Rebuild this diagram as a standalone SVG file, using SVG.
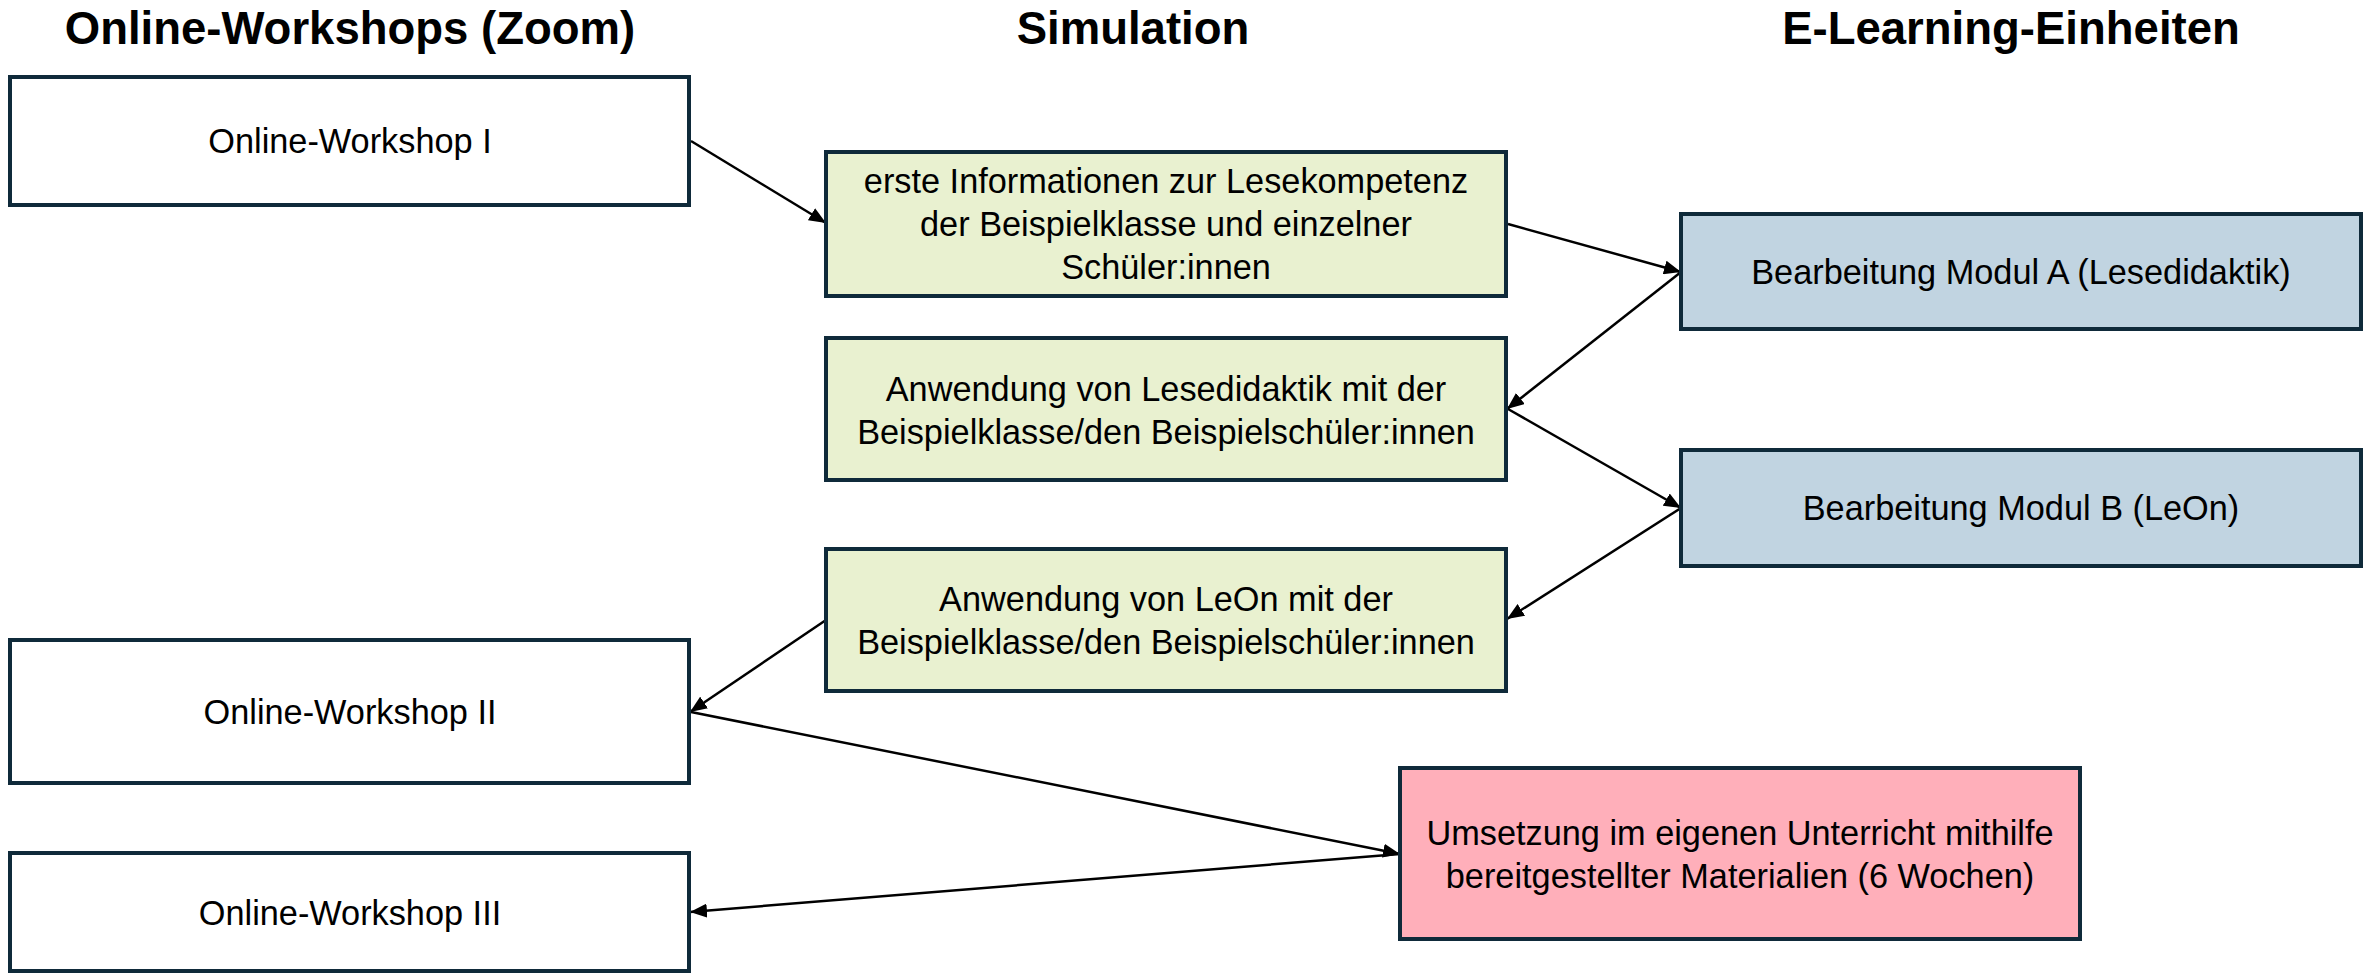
<svg xmlns="http://www.w3.org/2000/svg" width="2369" height="973" viewBox="0 0 2369 973">
<style>
  .title { font-family: "Liberation Sans", Arial, sans-serif; font-weight: bold; font-size: 45.5px; fill: #000; text-anchor: middle; }
  .box { stroke: #0f2a3a; stroke-width: 4; }
  .ow { fill: #ffffff; }
  .sim { fill: #e9f1d0; }
  .el { fill: #c1d4e1; }
  .impl { fill: #ffafba; }
  .lbl { font-family: "Liberation Sans", Arial, sans-serif; font-size: 34.3px; fill: #000; text-anchor: middle; }
  .conn { stroke: #000; stroke-width: 2.5; fill: none; marker-end: url(#arrow); }
</style>
<defs>
  <marker id="arrow" markerUnits="userSpaceOnUse" markerWidth="18" markerHeight="14" refX="17" refY="7" orient="auto">
    <path d="M0,0 L17,7 L0,14 z" fill="#000"/>
  </marker>
</defs>
<rect width="2369" height="973" fill="#ffffff"/>

<g id="titles">
  <text class="title" x="350" y="44">Online-Workshops (Zoom)</text>
  <text class="title" x="1133" y="44">Simulation</text>
  <text class="title" x="2011" y="44">E-Learning-Einheiten</text>
</g>

<g id="connectors">
  <line class="conn" x1="691" y1="141" x2="826" y2="223"/>
  <line class="conn" x1="1508" y1="224" x2="1681" y2="272"/>
  <line class="conn" x1="1681" y1="272" x2="1507" y2="409"/>
  <line class="conn" x1="1508" y1="409" x2="1681" y2="508"/>
  <line class="conn" x1="1681" y1="508" x2="1507" y2="619"/>
  <line class="conn" x1="826" y1="620" x2="690" y2="712"/>
  <line class="conn" x1="691" y1="712" x2="1400" y2="854"/>
  <line class="conn" x1="1400" y1="854" x2="690" y2="912"/>
</g>

<g id="ow1">
  <rect class="box ow" x="10" y="77" width="679" height="128"/>
  <text class="lbl" x="350" y="153">Online-Workshop I</text>
</g>
<g id="sim1">
  <rect class="box sim" x="826" y="152" width="680" height="144"/>
  <text class="lbl" x="1166" y="193">erste Informationen zur Lesekompetenz</text>
  <text class="lbl" x="1166" y="236">der Beispielklasse und einzelner</text>
  <text class="lbl" x="1166" y="279">Schüler:innen</text>
</g>
<g id="sim2">
  <rect class="box sim" x="826" y="338" width="680" height="142"/>
  <text class="lbl" x="1166" y="401">Anwendung von Lesedidaktik mit der</text>
  <text class="lbl" x="1166" y="444">Beispielklasse/den Beispielschüler:innen</text>
</g>
<g id="sim3">
  <rect class="box sim" x="826" y="549" width="680" height="142"/>
  <text class="lbl" x="1166" y="611">Anwendung von LeOn mit der</text>
  <text class="lbl" x="1166" y="654">Beispielklasse/den Beispielschüler:innen</text>
</g>
<g id="modA">
  <rect class="box el" x="1681" y="214" width="680" height="115"/>
  <text class="lbl" x="2021" y="284">Bearbeitung Modul A (Lesedidaktik)</text>
</g>
<g id="modB">
  <rect class="box el" x="1681" y="450" width="680" height="116"/>
  <text class="lbl" x="2021" y="520">Bearbeitung Modul B (LeOn)</text>
</g>
<g id="ow2">
  <rect class="box ow" x="10" y="640" width="679" height="143"/>
  <text class="lbl" x="350" y="724">Online-Workshop II</text>
</g>
<g id="impl">
  <rect class="box impl" x="1400" y="768" width="680" height="171"/>
  <text class="lbl" x="1740" y="845">Umsetzung im eigenen Unterricht mithilfe</text>
  <text class="lbl" x="1740" y="888">bereitgestellter Materialien (6 Wochen)</text>
</g>
<g id="ow3">
  <rect class="box ow" x="10" y="853" width="679" height="118"/>
  <text class="lbl" x="350" y="925">Online-Workshop III</text>
</g>
</svg>
